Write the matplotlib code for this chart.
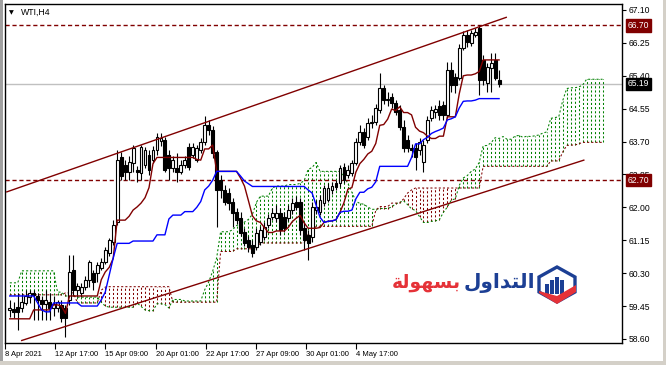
import numpy as np
import matplotlib
matplotlib.use("Agg")
import matplotlib.pyplot as plt
from matplotlib.patches import Rectangle, Polygon

# ---- WTI H4 candles ----
opens = [59.35, 59.37, 59.43, 59.40, 59.53, 59.68, 59.79, 59.71, 59.61, 59.50,
         59.55, 59.40, 59.40, 59.48, 59.40, 59.61, 60.38, 59.86, 59.79, 59.94,
         60.12, 60.30, 60.30, 60.43, 60.59, 60.82, 61.10, 61.62, 63.30, 63.09,
         62.91, 63.15, 62.97, 62.89, 63.09, 63.35, 63.22, 63.48, 63.71, 63.74,
         63.35, 63.02, 63.02, 62.91, 63.09, 63.56, 63.35, 63.22, 63.48, 63.69,
         64.13, 64.00, 63.43, 62.71, 62.45, 62.37, 62.14, 61.88, 61.73, 61.36,
         61.16, 61.03, 60.98, 61.10, 61.23, 61.54, 61.75, 61.73, 61.85, 61.75,
         61.73, 61.93, 62.14, 62.14, 61.47, 61.29, 61.23, 61.93, 61.88, 62.11,
         62.19, 62.45, 62.63, 62.63, 63.04, 62.84, 62.89, 63.15, 63.69, 63.95,
         63.82, 64.18, 64.21, 64.52, 65.08, 64.77, 64.85, 64.70, 64.52, 64.08,
         63.74, 63.53, 63.53, 63.48, 63.17, 63.74, 64.31, 64.46, 64.62, 64.65,
         64.39, 65.55, 65.37, 65.34, 66.12, 66.45, 66.25, 66.45, 66.63, 65.81,
         65.21, 65.60, 65.81, 65.29]
highs = [59.61, 59.55, 59.79, 59.79, 59.86, 59.86, 59.86, 59.79, 59.71, 59.86,
         59.79, 59.71, 59.61, 59.61, 59.48, 60.77, 60.77, 60.05, 60.05, 60.23,
         60.64, 60.38, 60.59, 60.69, 60.98, 61.21, 61.67, 63.48, 63.43, 63.22,
         63.33, 63.61, 63.07, 63.61, 63.56, 63.48, 63.59, 63.92, 63.92, 63.82,
         63.48, 63.33, 63.40, 63.22, 63.33, 63.66, 63.66, 63.61, 63.79, 64.36,
         64.26, 64.10, 63.48, 62.84, 62.58, 62.50, 62.24, 61.98, 61.88, 61.47,
         61.26, 61.16, 61.47, 61.52, 61.62, 61.83, 61.98, 62.06, 61.98, 61.88,
         62.06, 62.24, 62.29, 62.24, 61.62, 61.41, 62.14, 62.19, 62.32, 62.58,
         62.63, 62.66, 62.71, 63.09, 63.15, 63.09, 63.22, 63.79, 64.13, 64.05,
         64.31, 64.39, 64.67, 65.47, 65.16, 64.98, 64.95, 64.77, 64.65, 64.26,
         63.87, 63.64, 63.66, 63.79, 63.74, 64.36, 64.62, 64.65, 64.77, 64.75,
         65.76, 65.76, 65.47, 66.22, 66.56, 66.58, 66.58, 66.63, 66.71, 65.94,
         65.73, 65.99, 65.99, 65.55]
lows = [59.17, 59.14, 58.83, 59.30, 59.48, 59.53, 59.09, 59.09, 59.09, 59.09,
        59.09, 59.19, 59.30, 59.04, 58.65, 59.48, 59.74, 59.68, 59.68, 59.86,
        59.94, 59.86, 60.07, 60.38, 60.54, 60.74, 61.03, 61.54, 62.71, 62.71,
        62.71, 62.91, 62.66, 62.71, 63.02, 62.84, 63.15, 63.35, 63.59, 62.91,
        62.71, 62.91, 62.66, 62.86, 63.02, 62.97, 63.27, 63.17, 63.40, 63.61,
        63.87, 63.27, 61.49, 62.24, 62.06, 61.93, 61.49, 61.57, 61.26, 61.00,
        60.85, 60.72, 60.90, 61.03, 61.16, 61.47, 61.67, 61.62, 61.29, 61.36,
        61.65, 61.83, 61.93, 61.29, 60.90, 60.64, 61.10, 61.83, 61.80, 62.03,
        62.14, 62.35, 62.45, 62.53, 62.63, 62.76, 62.81, 63.09, 63.61, 63.53,
        63.74, 64.05, 64.13, 64.44, 64.67, 64.62, 64.57, 64.39, 64.00, 63.43,
        63.43, 63.30, 62.97, 63.35, 62.91, 63.66, 64.23, 64.31, 64.26, 64.26,
        64.31, 64.98, 64.95, 65.29, 66.07, 66.14, 66.17, 66.40, 64.90, 65.16,
        64.98, 64.98, 65.29, 65.11]
closes = [59.40, 59.30, 59.30, 59.55, 59.71, 59.79, 59.74, 59.61, 59.50, 59.61,
          59.40, 59.50, 59.55, 59.14, 59.14, 60.33, 59.86, 59.97, 59.94, 60.12,
          60.59, 60.07, 60.51, 60.59, 60.90, 61.16, 61.54, 63.22, 62.81, 62.91,
          63.17, 63.53, 62.91, 63.56, 63.48, 62.97, 63.48, 63.82, 63.79, 62.97,
          63.02, 63.22, 62.91, 63.09, 63.22, 63.04, 63.56, 63.53, 63.69, 64.13,
          64.00, 63.40, 62.45, 62.45, 62.14, 62.11, 61.85, 61.67, 61.34, 61.08,
          60.98, 60.82, 61.34, 61.41, 61.49, 61.73, 61.85, 61.85, 61.41, 61.47,
          61.93, 62.11, 62.01, 61.41, 61.16, 61.08, 62.01, 62.01, 62.19, 62.50,
          62.50, 62.55, 62.53, 63.02, 62.71, 62.97, 63.15, 63.69, 63.95, 63.61,
          64.18, 64.21, 64.57, 65.08, 64.77, 64.80, 64.70, 64.46, 64.08, 63.53,
          63.53, 63.48, 63.30, 63.69, 63.61, 64.26, 64.52, 64.54, 64.39, 64.39,
          65.55, 65.16, 65.16, 66.12, 66.45, 66.27, 66.51, 66.53, 65.29, 65.29,
          65.63, 65.73, 65.34, 65.19]

# Ichimoku lines as seen on the chart
tenkan = ([59.12] * 6 + [59.35] * 5 + [59.48, 59.48, 59.45, 59.26] + [59.71] * 8
          + [60.13, 60.33, 60.45, 60.68] + [61.67] * 3
          + [61.77, 61.93, 62.01, 62.11, 62.25, 62.51, 63.13] + [63.29] * 10
          + [63.24, 63.22, 63.51, 63.51, 63.61] + [62.93] * 6
          + [62.76, 62.55, 62.17, 61.78, 61.65, 61.61, 61.48, 61.35, 61.35, 61.39,
             61.39, 61.39, 61.48, 61.63, 61.72, 61.79, 61.60, 61.46, 61.46, 61.46,
             61.48, 61.61, 61.64, 61.65, 61.68, 61.87, 62.12, 62.47, 62.51, 62.91,
             63.13, 63.24, 63.38, 63.45, 63.65, 64.12, 64.14, 64.28, 64.54, 64.50,
             64.60, 64.45, 64.45, 64.39, 64.07, 63.97, 63.93, 63.84, 63.78, 63.78,
             63.84, 63.84, 64.34, 64.34, 64.34, 64.94, 65.40, 65.42, 65.42, 65.45,
             65.51] + [65.81] * 5)
kijun = ([59.71] * 7 + [59.53, 59.35, 59.30, 59.30] + [59.53] * 7 + [59.45] * 5
         + [59.61, 59.81, 60.25, 60.69] + [61.07] * 4 + [61.13] * 6 + [61.29] * 3
         + [61.70, 61.80, 61.80, 61.80, 61.89, 61.89, 61.89, 62.00, 62.15, 62.45,
            62.55, 62.70] + [62.93] * 6 + [62.81, 62.68, 62.61] + [62.54] * 14
         + [62.45, 62.37, 62.06, 61.74, 61.61, 61.64, 61.65, 61.68, 61.87, 61.90,
            61.90, 61.93, 62.22, 62.39, 62.39, 62.48, 62.52, 62.66] + [63.06] * 8
         + [63.29, 63.64, 63.64, 63.75, 63.81, 63.91, 63.96, 64.00, 64.05, 64.26,
            64.29, 64.34, 64.57, 64.74, 64.75, 64.75, 64.77] + [64.81] * 6)
span_a = ([60.05] * 3 + [60.36] * 9 + [59.81] * 2 + [59.71] * 3 + [59.68] * 6
          + [59.55, 59.45, 59.42] + [59.42] * 6
          + [59.53, 59.44, 59.35, 59.33, 59.33, 59.51, 59.51, 59.49, 59.40]
          + [59.62] * 3 + [59.58] * 5 + [59.87, 60.07, 60.35, 60.69] + [61.37] * 3
          + [61.42, 61.53, 61.57, 61.62, 61.69, 61.82, 62.13] + [62.29] * 3
          + [62.50] + [62.55] * 3 + [62.59] * 3 + [62.62, 62.69, 62.98, 63.03, 63.16]
          + [62.93] * 6 + [62.79, 62.62, 62.39, 62.16, 62.10, 62.08, 62.01]
          + [61.95] * 2 + [61.97] * 3
          + [62.01, 62.09, 62.13, 62.17, 62.07, 61.96, 61.92, 61.76, 61.61, 61.61,
             61.64, 61.65, 61.68, 61.87, 62.01, 62.19, 62.22, 62.57, 62.76, 62.82,
             62.93, 62.99, 63.16, 63.59, 63.60, 63.67, 63.80, 63.78, 63.83, 63.76,
             63.76, 63.84, 63.86, 63.81, 63.84, 63.83, 63.85, 63.87, 63.92, 63.95,
             64.30, 64.32, 64.34, 64.76, 65.07, 65.09, 65.09, 65.11, 65.16]
          + [65.31] * 5)
span_b = ([59.74] * 14 + [59.79] * 3 + [59.53] * 6 + [59.86, 59.94] + [59.95] * 16
          + [59.55] * 12 + [60.86] * 4 + [60.93] * 6 + [61.08] * 12 + [61.30] * 2
          + [61.51] * 15 + [61.92] + [62.02] * 3 + [62.11] * 3
          + [62.22, 62.37, 62.45] + [62.50] * 17 + [63.06] * 17 + [63.20] * 3
          + [63.43, 63.60, 63.61, 63.61, 63.64] + [63.68] * 6)

# trend channel anchors (bar index, price)
channel_top = [(-0.75, 62.40), (124.8, 66.91)]
channel_bottom = [(3.0, 58.56), (144.3, 63.22)]
levels = [66.70, 62.70]
last_price = 65.19

y_ticks = [58.60, 59.45, 60.30, 61.15, 62.00, 62.85, 63.70, 64.55, 65.40, 66.25, 67.10]
date_labels = ["8 Apr 2021", "12 Apr 17:00", "15 Apr 09:00", "20 Apr 01:00",
               "22 Apr 17:00", "27 Apr 09:00", "30 Apr 01:00", "4 May 17:00"]
date_pos = [-1.2, 11.35, 24.05, 36.85, 49.4, 61.9, 74.4, 87.0]

GREEN = "#008000"
MAROON = "#800000"
BLUE = "#0000ff"
DOT = (0, (2, 2))
SCALE_FONT = "Liberation Sans"

W, H = 666, 365


def fx(px):
    return px / W


def fy(py):
    return 1 - py / H


def shape_arabic(word):
    # joined presentation forms, put in visual (left-to-right) order
    forms = {  # isolated, final, initial, medial
        "ا": ("\ufe8d", "\ufe8e", None, None),
        "ل": ("\ufedd", "\ufede", "\ufedf", "\ufee0"),
        "ت": ("\ufe95", "\ufe96", "\ufe97", "\ufe98"),
        "د": ("\ufea9", "\ufeaa", None, None),
        "و": ("\ufeed", "\ufeee", None, None),
        "ب": ("\ufe8f", "\ufe90", "\ufe91", "\ufe92"),
        "س": ("\ufeb1", "\ufeb2", "\ufeb3", "\ufeb4"),
        "ه": ("\ufee9", "\ufeea", "\ufeeb", "\ufeec"),
        "ة": ("\ufe93", "\ufe94", None, None),
    }
    out = []
    for k, ch in enumerate(word):
        prev_joins = k > 0 and forms[word[k - 1]][2] is not None
        next_joins = k < len(word) - 1 and forms[ch][2] is not None
        if prev_joins and next_joins:
            out.append(forms[ch][3])
        elif prev_joins:
            out.append(forms[ch][1])
        elif next_joins:
            out.append(forms[ch][2])
        else:
            out.append(forms[ch][0])
    return "".join(reversed(out))


fig = plt.figure(figsize=(6.66, 3.65), dpi=100)
fig.patch.set_facecolor("white")
ax = fig.add_axes([fx(5), fy(343), fx(622) - fx(5), fy(4) - fy(343)])

o = np.array(opens)
h = np.array(highs)
l = np.array(lows)
c = np.array(closes)
xs = np.arange(len(o))

# cloud
sa = np.array(span_a)
sb = np.array(span_b)
xc = np.arange(len(sa))
up = sa >= sb
ax.vlines(xc[up], sb[up], sa[up], colors=GREEN, linestyles=[DOT], lw=0.75, zorder=1)
ax.vlines(xc[~up], sa[~up], sb[~up], colors=MAROON, linestyles=[DOT], lw=0.75, zorder=1)
ax.plot(xc, sa, color=GREEN, ls=DOT, lw=0.75, zorder=1)
ax.plot(xc, sb, color=MAROON, ls=DOT, lw=0.75, zorder=1)

# levels
ax.axhline(last_price, color="#c0c0c0", lw=1, zorder=0)
for lv in levels:
    ax.axhline(lv, color=MAROON, lw=1, ls=(0, (3, 2)), zorder=2)

# candles
bull = c >= o
ax.vlines(xs, l, h, color="black", lw=0.8, zorder=3)
ax.bar(xs[bull], np.maximum((c - o)[bull], 0.01), bottom=o[bull], width=0.72,
       color="white", edgecolor="black", lw=0.8, zorder=4)
ax.bar(xs[~bull], (o - c)[~bull], bottom=c[~bull], width=0.72,
       color="black", edgecolor="black", lw=0.8, zorder=4)

ax.plot(xs, tenkan, color=MAROON, lw=1, zorder=5)
ax.plot(xs, kijun, color=BLUE, lw=1, zorder=5)

for line in (channel_top, channel_bottom):
    ax.plot([line[0][0], line[1][0]], [line[0][1], line[1][1]], color=MAROON, lw=1, zorder=5)

ax.set_xlim(-0.75, 153.9)
ax.set_ylim(58.495, 67.255)

for s in ax.spines.values():
    s.set_color("black")
    s.set_linewidth(1)

ax.yaxis.tick_right()
ax.set_yticks(y_ticks)
ax.set_yticklabels([f"{v:.2f}" for v in y_ticks], fontfamily=SCALE_FONT)
ax.tick_params(axis="y", direction="out", length=3, width=0.8, pad=1.5, labelsize=6.2)
ax.set_xticks(date_pos)
ax.set_xticklabels(date_labels, fontfamily=SCALE_FONT)
ax.tick_params(axis="x", direction="out", length=4, width=0.8, pad=1.5, labelsize=5.5)
for lbl in ax.get_xticklabels():
    lbl.set_ha("left")

# price tags on the right scale
for val, col in ((66.70, MAROON), (62.70, MAROON), (last_price, "black")):
    ax.annotate(f"{val:.2f}", xy=(1, val), xycoords=("axes fraction", "data"),
                xytext=(4.0, 0), textcoords="offset points", fontsize=6.2, color="white",
                fontfamily=SCALE_FONT, va="center", ha="left", zorder=10,
                bbox=dict(boxstyle="square,pad=0.2", fc=col, ec=col))

# title
fig.text(fx(9), fy(12.5), "\u25bc", fontsize=4.5, va="center", ha="left")
fig.text(fx(21), fy(12), "WTI,H4", fontsize=6.3, va="center", ha="left",
         fontfamily=SCALE_FONT)

# window border
fig.add_artist(Rectangle((0, 0), fx(2.5), 1, transform=fig.transFigure, color="#a0a0a0", lw=0))
fig.add_artist(Rectangle((fx(663), 0), fx(3), 1, transform=fig.transFigure, color="#d4d0c8", lw=0))
fig.add_artist(Rectangle((0, 0), 1, fy(361), transform=fig.transFigure, color="#d4d0c8", lw=0))

# logo
fig.text(fx(535), fy(283), shape_arabic("التداول"), color="#1c3f94", fontsize=14.5,
         fontweight="bold", ha="right", va="center")
fig.text(fx(461), fy(283), shape_arabic("بسهولة"), color="#e53238", fontsize=13.5,
         fontweight="bold", ha="right", va="center")
hexagon = [(557, 267), (575, 277), (575, 292), (557, 302), (539, 292), (539, 277)]
fig.add_artist(Polygon([(fx(px), fy(py)) for px, py in hexagon], closed=True,
                       transform=fig.transFigure, fc="white", ec="#1c3f94", lw=2.4))
for bx, top in ((545, 284), (550, 280), (555, 277), (560, 280)):
    fig.add_artist(Rectangle((fx(bx), fy(294)), fx(3.5), fy(top) - fy(294),
                             transform=fig.transFigure, color="#1c3f94", lw=0))
swoosh = [(539, 291), (557, 296), (576, 285), (576, 292), (557, 304), (539, 293)]
fig.add_artist(Polygon([(fx(px), fy(py)) for px, py in swoosh], closed=True,
                       transform=fig.transFigure, fc="#e53238", ec="none"))

fig.savefig("out.png", dpi=100, facecolor="white")
